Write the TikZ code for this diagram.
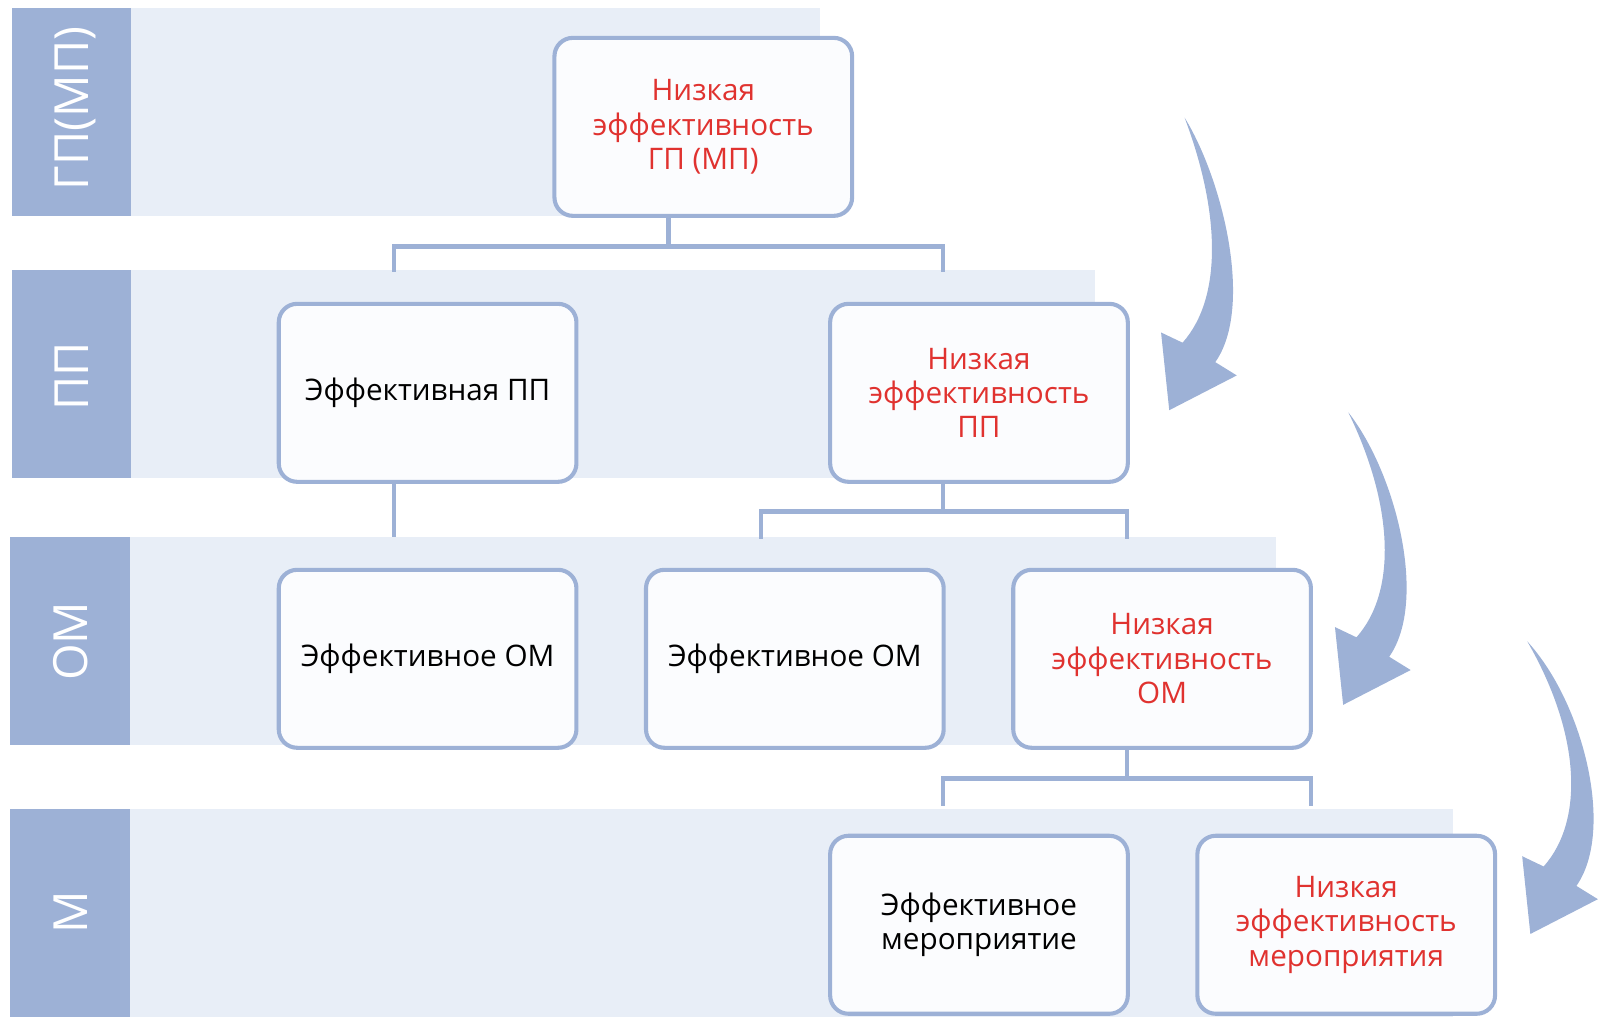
\documentclass[tikz,border=0pt]{standalone}
\usepackage{fontspec}
\setmainfont{Open Sans}
\usetikzlibrary{calc}
\definecolor{bd}{HTML}{9DB1D6}
\definecolor{bandc}{HTML}{E8EEF7}
\definecolor{boxc}{HTML}{FBFCFE}
\definecolor{redt}{HTML}{E0322F}
\tikzset{
  box/.style={draw=bd, line width=4pt, fill=boxc, rounded corners=18pt,
    minimum width=291pt, minimum height=174pt, inner sep=0pt, align=center,
    font=\fontsize{29}{33.5}\selectfont},
  red/.style={text=redt},
  conn/.style={draw=bd, line width=4pt, line join=miter},
  lab/.style={rotate=90, anchor=base, text=white, font=\fontsize{46}{52}\selectfont},
  band/.style={fill=bandc},
  labbg/.style={fill=bd}
}
\begin{document}
\begin{tikzpicture}[x=1pt,y=-1pt]
\useasboundingbox (0,0) rectangle (1568,994);
% bands
\fill[band] (128,8) rectangle (802,211);
\fill[labbg] (12,8) rectangle (128,211);
\fill[band] (128,264) rectangle (1070,467);
\fill[labbg] (12,264) rectangle (128,467);
\fill[band] (127,525) rectangle (1247,728);
\fill[labbg] (10,525) rectangle (127,728);
\fill[band] (127,791) rectangle (1420,994);
\fill[labbg] (10,791) rectangle (127,994);
\node[lab] (l1) at (87,106) {ГП(МП)};
\node[lab] (l2) at (87,368) {ПП};
\node[lab] (l3) at (86,627) {ОМ};
\node[lab] (l4) at (86,892) {М};
% boxes
\node[box,red] (top) at (687.5,124) {Низкая\\эффективность\\ГП (МП)};
\node[box] (pp1) at (418,384) {Эффективная ПП};
\node[box,red] (pp2) at (957,384) {Низкая\\эффективность\\ПП};
\node[box] (om1) at (418,644) {Эффективное ОМ};
\node[box] (om2) at (777,644) {Эффективное ОМ};
\node[box,red] (om3) at (1136,644) {Низкая\\эффективность\\ОМ};
\node[box] (m1) at (957,904) {Эффективное\\мероприятие};
\node[box,red] (m2) at (1316,904) {Низкая\\эффективность\\мероприятия};
% connectors
\coordinate (j1) at ($(top.south)+(-34,28)$);
\draw[conn] ($(top.south)+(-34,0)$) -- (j1);
\draw[conn] (j1) -| ($(pp1.north)+(-33,-29)$);
\draw[conn] (j1) -| ($(pp2.north)+(-35,-29)$);
\draw[conn] ($(pp1.south)+(-33,0)$) -- ($(om1.north)+(-33,-30)$);
\coordinate (j2) at ($(pp2.south)+(-35,27)$);
\draw[conn] ($(pp2.south)+(-35,0)$) -- (j2);
\draw[conn] (j2) -| ($(om2.north)+(-33,-28)$);
\draw[conn] (j2) -| ($(om3.north)+(-34,-28)$);
\coordinate (j3) at ($(om3.south)+(-34,28)$);
\draw[conn] ($(om3.south)+(-34,0)$) -- (j3);
\draw[conn] (j3) -| ($(m1.north)+(-35,-27)$);
\draw[conn] (j3) -| ($(m2.north)+(-34,-27)$);
% curved block arrows
\foreach \dx/\dy/\tx in {0/0/0, 170/288/-10, 353/512/-18}{
  \fill[bd, shift={(\dx,\dy)}]
    (1158+\tx,115) .. controls (1195,175) and (1226,300) .. (1188,354)
    -- (1209,367) -- (1143,401) -- (1135,325) -- (1156,335)
    .. controls (1196,290) and (1192,205) .. (1158+\tx,115) -- cycle;
}
\end{tikzpicture}
\end{document}
